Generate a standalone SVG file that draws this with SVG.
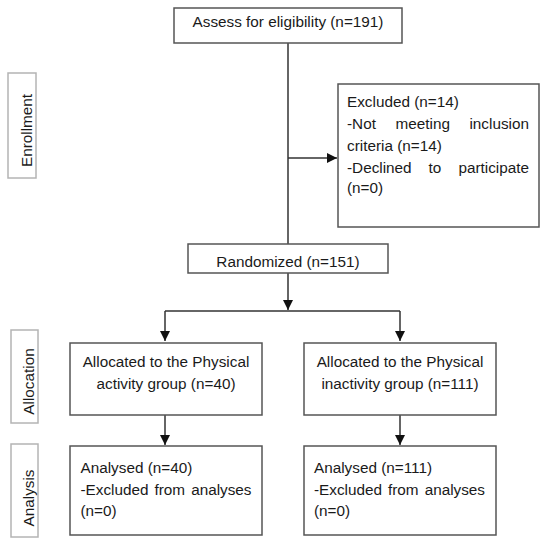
<svg xmlns="http://www.w3.org/2000/svg" width="550" height="545" viewBox="0 0 550 545">
<defs>
<style>
.box{fill:#fff;stroke:#555;stroke-width:1.5}
.side{fill:#fff;stroke:#b4b4b4;stroke-width:1.5}
.t{font-family:"Liberation Sans",Arial,sans-serif;font-size:15.3px;fill:#1a1a1a}
.c{text-anchor:middle}
.ln{fill:none;stroke:#333;stroke-width:1.5}
</style>
<marker id="ah" markerUnits="userSpaceOnUse" markerWidth="10" markerHeight="10" viewBox="0 0 10 10" refX="10" refY="5" orient="auto">
<path d="M0,0 L10,5 L0,10 Z" fill="#111"/>
</marker>
</defs>
<rect width="550" height="545" fill="#fff"/>

<g id="connectors">
<path class="ln" d="M288,43 V244"/>
<path class="ln" d="M288,158 H337" marker-end="url(#ah)"/>
<path class="ln" d="M288,273 V310" marker-end="url(#ah)"/>
<path class="ln" d="M165,311 H400"/>
<path class="ln" d="M165,311 V341" marker-end="url(#ah)"/>
<path class="ln" d="M400,311 V341" marker-end="url(#ah)"/>
<path class="ln" d="M165,415 V445" marker-end="url(#ah)"/>
<path class="ln" d="M400,415 V445" marker-end="url(#ah)"/>
</g>

<g id="label-enrollment">
<rect class="side" x="8" y="73" width="28" height="105"/>
<text class="t c" transform="translate(32,130.5) rotate(-90)">Enrollment</text>
</g>
<g id="label-allocation">
<rect class="side" x="11" y="330" width="27" height="93"/>
<text class="t c" transform="translate(34,381.5) rotate(-90)">Allocation</text>
</g>
<g id="label-analysis">
<rect class="side" x="11" y="444" width="27" height="93"/>
<text class="t c" transform="translate(34,498) rotate(-90)">Analysis</text>
</g>

<g id="assess">
<rect class="box" x="174" y="8" width="228" height="35"/>
<text class="t c" x="288" y="27">Assess for eligibility (n=191)</text>
</g>

<g id="excluded">
<rect class="box" x="338" y="84" width="201" height="143"/>
<text class="t" x="347" y="107">Excluded (n=14)</text>
<text class="t" y="129"><tspan x="347">-Not</tspan><tspan x="395.5">meeting</tspan><tspan x="529" text-anchor="end">inclusion</tspan></text>
<text class="t" x="347" y="151">criteria (n=14)</text>
<text class="t" y="172.5"><tspan x="347">-Declined</tspan><tspan x="428.6">to</tspan><tspan x="529" text-anchor="end">participate</tspan></text>
<text class="t" x="347" y="193">(n=0)</text>
</g>

<g id="randomized">
<rect class="box" x="188" y="244" width="200" height="29"/>
<text class="t c" x="288" y="267">Randomized (n=151)</text>
</g>

<g id="alloc-active">
<rect class="box" x="70" y="343" width="192" height="72"/>
<text class="t c" x="166" y="367">Allocated to the Physical</text>
<text class="t c" x="166" y="389">activity group (n=40)</text>
</g>

<g id="alloc-inactive">
<rect class="box" x="304" y="343" width="192" height="72"/>
<text class="t c" x="400" y="367">Allocated to the Physical</text>
<text class="t c" x="400" y="389">inactivity group (n=111)</text>
</g>

<g id="analysis-active">
<rect class="box" x="70" y="446" width="192" height="89"/>
<text class="t" x="80.5" y="473">Analysed (n=40)</text>
<text class="t" y="494.5"><tspan x="80.5">-Excluded</tspan><tspan x="154.5">from</tspan><tspan x="251.5" text-anchor="end">analyses</tspan></text>
<text class="t" x="80.5" y="516">(n=0)</text>
</g>

<g id="analysis-inactive">
<rect class="box" x="304" y="446" width="192" height="89"/>
<text class="t" x="314" y="473">Analysed (n=111)</text>
<text class="t" y="494.5"><tspan x="314">-Excluded</tspan><tspan x="388">from</tspan><tspan x="485" text-anchor="end">analyses</tspan></text>
<text class="t" x="314" y="516">(n=0)</text>
</g>
</svg>
